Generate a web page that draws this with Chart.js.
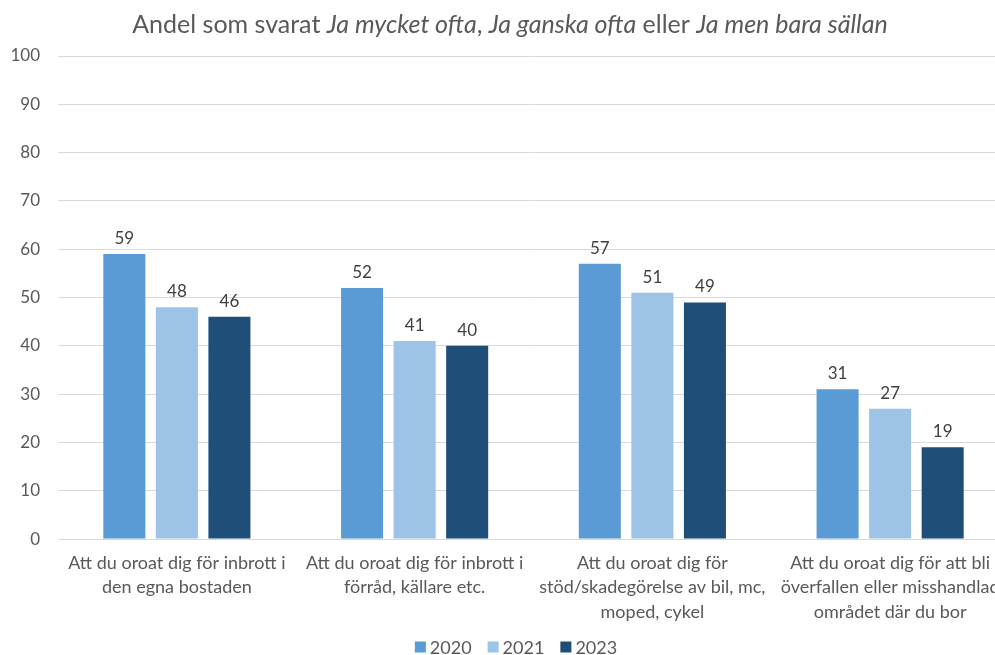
<!DOCTYPE html>
<html>
<head>
<meta charset="utf-8">
<script src="https://cdn.jsdelivr.net/npm/chart.js@4.4.1/dist/chart.umd.min.js"></script>
<style>
	html, body { margin: 0; background: #fff; overflow: hidden; }
	/* plot area runs past the right edge in the original, so the canvas is a bit wider and clipped */
	#wrap { width: 995px; height: 655px; overflow: hidden; }
</style>
</head>
<body>
<div id="wrap"><canvas id="myChart" width="1009" height="655"></canvas></div>
<script>
const categories = [
	['Att du oroat dig för inbrott i', 'den egna bostaden'],
	['Att du oroat dig för inbrott i', 'förråd, källare etc.'],
	['Att du oroat dig för', 'stöd/skadegörelse av bil, mc,', 'moped, cykel'],
	['Att du oroat dig för att bli', 'överfallen eller misshandlad', 'området där du bor']
]
const values2020 = [59, 52, 57, 31]
const values2021 = [48, 41, 51, 27]
const values2023 = [46, 40, 49, 19]
const seriesNames = ['2020', '2021', '2023']
const colors = ['#5B9BD5', '#9DC3E6', '#1F4E79']

// title parts: [text, italic]
const titleParts = [
	['Andel som svarat ', false],
	['Ja mycket ofta', true],
	[', ', false],
	['Ja ganska ofta', true],
	[' eller ', false],
	['Ja men bara sällan', true]
]

const FONT = 'Lato, "Open Sans", sans-serif'

const titlePlugin = {
	id: 'mixedTitle',
	afterDraw(chart) {
		const ctx = chart.ctx
		ctx.save()
		ctx.fillStyle = '#595959'
		ctx.textBaseline = 'middle'
		let total = 0
		titleParts.forEach(p => {
			ctx.font = (p[1] ? 'italic ' : '') + '25px ' + FONT
			total += ctx.measureText(p[0]).width
		})
		let x = 510 - total / 2
		titleParts.forEach(p => {
			ctx.font = (p[1] ? 'italic ' : '') + '25px ' + FONT
			ctx.textAlign = 'left'
			ctx.fillText(p[0], x, 25)
			x += ctx.measureText(p[0]).width
		})
		ctx.restore()
	}
}

// legend drawn by hand so the spacing matches (small boxes, tight gap)
const legendPlugin = {
	id: 'bottomLegend',
	afterDraw(chart) {
		const ctx = chart.ctx
		const box = 11, gap = 4, itemGap = 16
		ctx.save()
		ctx.font = '18px ' + FONT
		ctx.textBaseline = 'middle'
		ctx.textAlign = 'left'
		const widths = chart.data.datasets.map(ds => box + gap + ctx.measureText(ds.label).width)
		const total = widths.reduce((a, b) => a + b, 0) + itemGap * (widths.length - 1)
		let x = 516 - total / 2
		const y = 647
		chart.data.datasets.forEach((ds, i) => {
			ctx.fillStyle = ds.backgroundColor
			ctx.fillRect(x, y - box / 2, box, box)
			ctx.fillStyle = '#595959'
			ctx.fillText(ds.label, x + box + gap, y + 1)
			x += widths[i] + itemGap
		})
		ctx.restore()
	}
}

const labelPlugin = {
	id: 'barLabels',
	afterDatasetsDraw(chart) {
		const ctx = chart.ctx
		ctx.save()
		ctx.font = '17px ' + FONT
		ctx.fillStyle = '#404040'
		ctx.textAlign = 'center'
		ctx.textBaseline = 'bottom'
		chart.data.datasets.forEach((ds, i) => {
			chart.getDatasetMeta(i).data.forEach((bar, j) => {
				ctx.fillText(ds.data[j], bar.x, bar.y - 7)
			})
		})
		ctx.restore()
	}
}

const data = {
	labels: categories,
	datasets: [values2020, values2021, values2023].map((vals, i) => ({
		label: seriesNames[i],
		data: vals,
		backgroundColor: colors[i],
		borderWidth: 0,
		categoryPercentage: 0.663,
		barPercentage: 0.8
	}))
}

const config = {
	type: 'bar',
	data: data,
	options: {
		responsive: false,
		animation: false,
		layout: {
			padding: { top: 56, right: 0, left: 0, bottom: 27 }
		},
		plugins: {
			legend: { display: false },
			tooltip: { enabled: false },
			title: { display: false }
		},
		scales: {
			y: {
				min: 0,
				max: 100,
				afterFit(scale) { scale.width = 58 },
				ticks: {
					stepSize: 10,
					color: '#595959',
					font: { family: FONT, size: 17 },
					padding: 18
				},
				grid: { color: '#d9d9d9', drawTicks: false },
				border: { display: false }
			},
			x: {
				ticks: {
					color: '#595959',
					font: { family: FONT, size: 18, lineHeight: 1.35 },
					maxRotation: 0,
					autoSkip: false,
					padding: 4
				},
				grid: { display: false },
				border: { color: '#d9d9d9' }
			}
		}
	},
	plugins: [titlePlugin, labelPlugin, legendPlugin]
}

const myChart = new Chart(document.getElementById('myChart').getContext('2d'), config)
</script>
</body>
</html>
